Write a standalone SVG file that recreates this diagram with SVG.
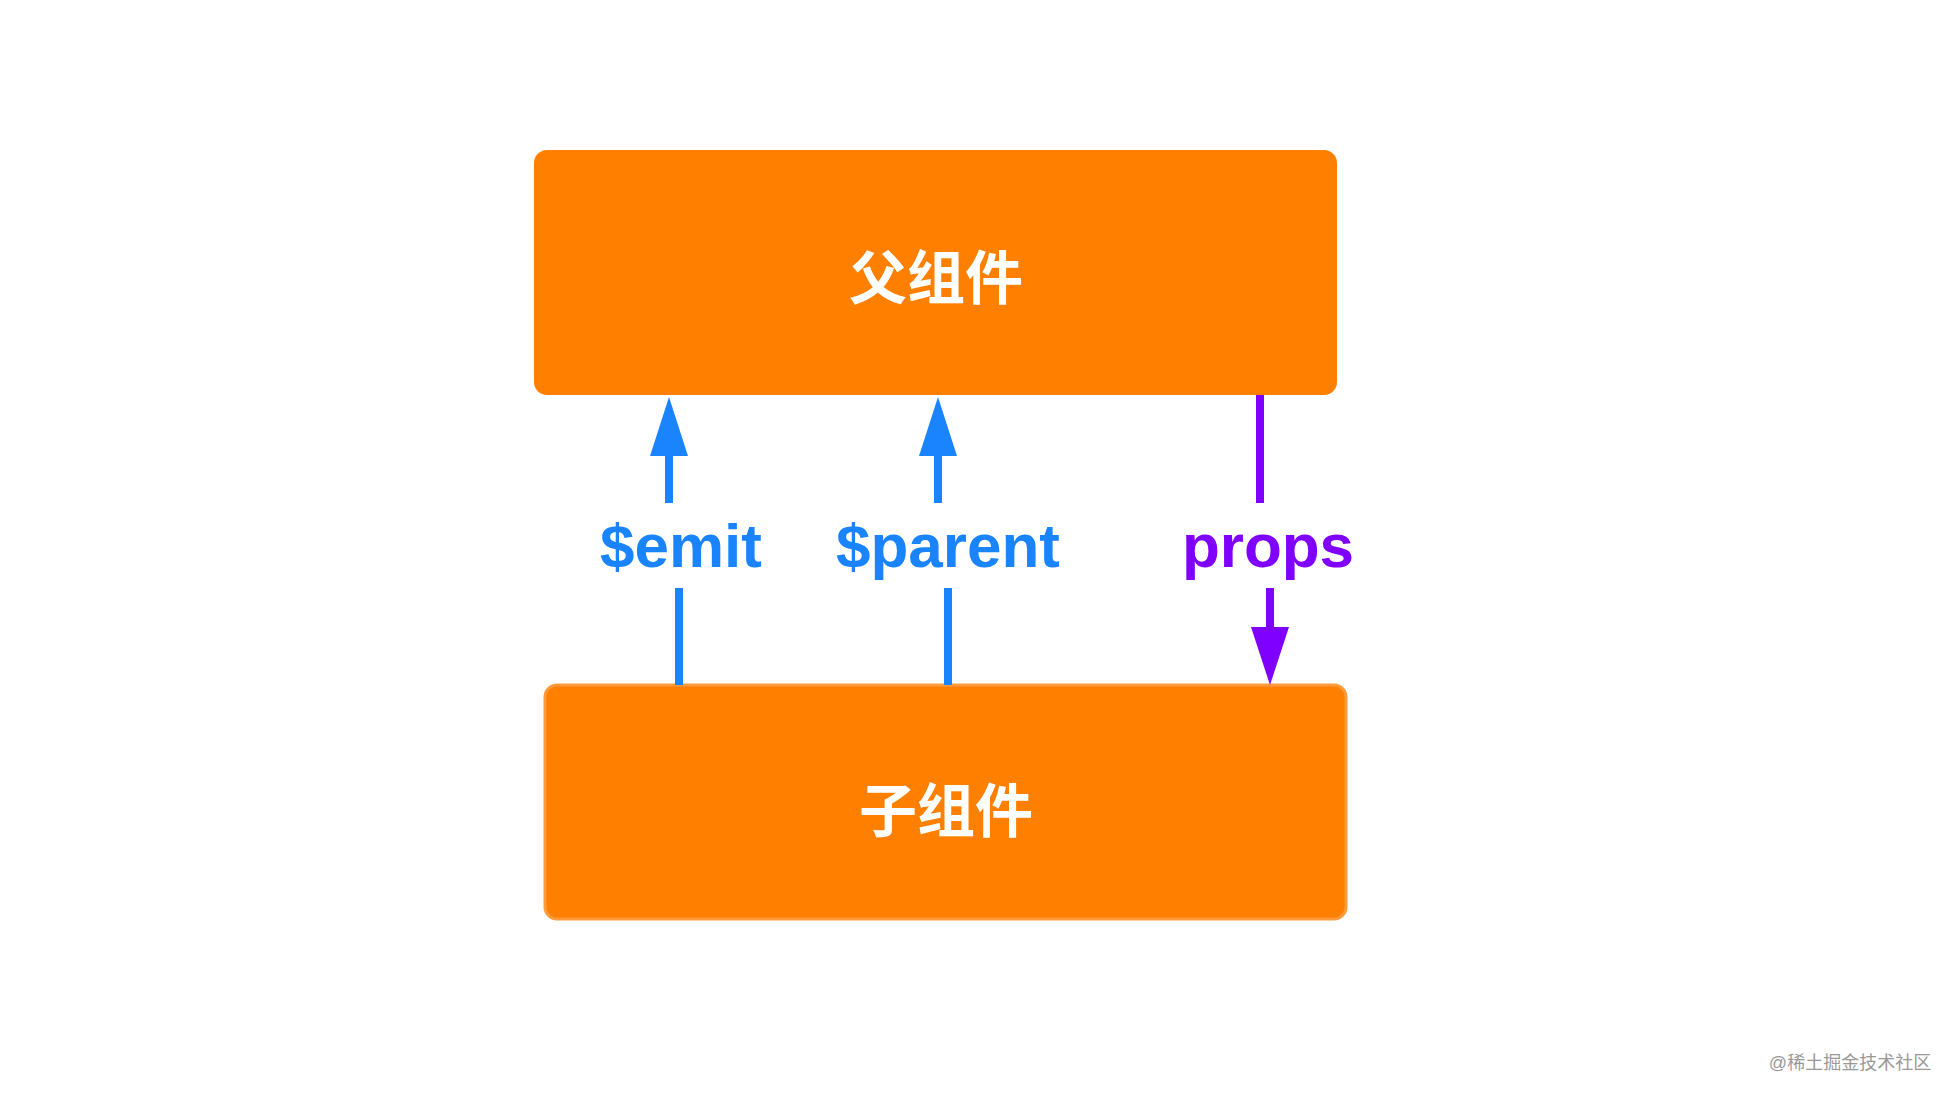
<svg xmlns="http://www.w3.org/2000/svg" width="1956" height="1101" viewBox="0 0 1956 1101">
<style>
.box{fill:#ff8000}
.cn{font-family:"Noto Sans CJK SC",sans-serif;font-weight:bold;font-size:58px;fill:#fff;text-anchor:middle}
.lbl{font-family:"Liberation Sans",sans-serif;font-weight:bold;font-size:62px;text-anchor:middle}
.b{stroke:#1a84ff;stroke-width:8;fill:none}
.p{stroke:#8000ff;stroke-width:8;fill:none}
</style>
<rect width="1956" height="1101" fill="#fff"/>
<g id="parent"><rect class="box" x="534" y="150" width="803" height="245" rx="13"/><text class="cn" x="936" y="299">父组件</text></g>
<g id="child"><rect class="box" x="545" y="685" width="801" height="234" rx="12" stroke="#ff9a3a" stroke-width="3"/><text class="cn" x="946" y="832">子组件</text></g>
<g id="connectors">
<line class="b" x1="669" y1="450" x2="669" y2="503"/><polygon points="669,397 650,456 688,456" fill="#1a84ff"/>
<line class="b" x1="679" y1="588" x2="679" y2="685"/>
<line class="b" x1="938" y1="450" x2="938" y2="503"/><polygon points="938,397 919,456 957,456" fill="#1a84ff"/>
<line class="b" x1="948" y1="588" x2="948" y2="685"/>
<line class="p" x1="1260" y1="395" x2="1260" y2="503"/>
<line class="p" x1="1270" y1="588" x2="1270" y2="632"/><polygon points="1270,685 1251,627 1289,627" fill="#8000ff"/>
<text class="lbl" x="681" y="567" fill="#1a84ff">$emit</text>
<text class="lbl" x="948" y="567" fill="#1a84ff">$parent</text>
<text class="lbl" x="1268" y="567" fill="#8000ff">props</text>
</g>
<text x="1850" y="1069" font-family="'Liberation Sans','Noto Sans CJK SC',sans-serif" font-size="18" fill="#999" text-anchor="middle">@稀土掘金技术社区</text>
</svg>
